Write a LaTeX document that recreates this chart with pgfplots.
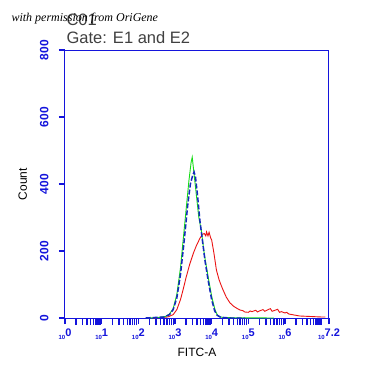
\documentclass[border=0pt]{standalone}
\usepackage{pgfplots}
\pgfplotsset{compat=1.18}
\usepackage{fontspec}
\setmainfont{Liberation Sans}
\newfontfamily\serif{Liberation Serif}
\definecolor{axblue}{RGB}{20,20,220}
\definecolor{ggreen}{RGB}{20,220,20}
\definecolor{rred}{RGB}{235,20,20}
\definecolor{dblue}{RGB}{20,40,190}
\newcommand{\dec}[1]{{\fontsize{6}{6}\selectfont 10}\raisebox{3pt}{\fontsize{11}{11}\selectfont #1}}
\begin{document}
\begin{tikzpicture}[x=1pt,y=1pt]
\path[use as bounding box,fill=white] (0,0) rectangle (384,384);
\begin{axis}[
  at={(65pt,66pt)}, anchor=south west,
  scale only axis, width=264pt, height=268pt,
  xmin=0, xmax=7.2, ymin=0, ymax=800,
  /pgf/number format/assume math mode=true,
  axis line style={axblue, line width=1pt},
  xtick={0,1,2,3,4,5,6,7.2},
  xticklabels={\dec{0},\dec{1},\dec{2},\dec{3},\dec{4},\dec{5},\dec{6},\dec{7.2}},
  minor xtick={0.301,0.477,0.602,0.699,0.778,0.845,0.903,0.954,
    1.301,1.477,1.602,1.699,1.778,1.845,1.903,1.954,
    2.301,2.477,2.602,2.699,2.778,2.845,2.903,2.954,
    3.301,3.477,3.602,3.699,3.778,3.845,3.903,3.954,
    4.301,4.477,4.602,4.699,4.778,4.845,4.903,4.954,
    5.301,5.477,5.602,5.699,5.778,5.845,5.903,5.954,
    6.301,6.477,6.602,6.699,6.778,6.845,6.903,6.954,7},
  xtick pos=bottom, ytick pos=left,
  tick align=outside,
  major tick length=6pt, minor tick length=7pt,
  tick style={axblue, line width=1.2pt},
  minor tick style={axblue, line width=1.4pt},
  ytick={0,200,400,600,800},
  yticklabel shift=7pt,
  yticklabel style={rotate=90, anchor=south, font=\fontsize{12}{12}\selectfont\bfseries, text=axblue},
  xticklabel style={text=axblue, font=\bfseries, yshift=-1pt},
  ylabel={Count}, xlabel={FITC-A},
  ylabel style={font=\fontsize{12}{12}\selectfont, yshift=6pt},
  xlabel style={font=\fontsize{12}{12}\selectfont, yshift=-2pt},
  clip=false,
]
\addplot[rred, line width=0.9pt] coordinates {
(2.4,0) (2.8,3) (2.95,10) (3.05,25) (3.15,55) (3.22,84) (3.3,120) (3.4,160) (3.5,193) (3.58,215) (3.68,238) (3.75,250) (3.8,252) (3.84,245) (3.86,257) (3.9,245) (3.93,256) (3.97,240) (4.0,233) (4.06,195) (4.13,143) (4.2,115) (4.25,100) (4.31,84) (4.4,62) (4.5,45) (4.6,35) (4.7,28) (4.77,24) (4.85,22) (4.9,18) (5.0,17) (5.05,21) (5.1,19) (5.2,23) (5.25,18) (5.3,21) (5.4,25) (5.45,20) (5.5,23) (5.6,28) (5.65,20) (5.7,22) (5.8,26) (5.85,17) (5.9,19) (6.0,15) (6.05,17) (6.1,12) (6.2,10) (6.3,8) (6.4,6) (6.6,5) (6.8,4) (7.0,3) (7.1,3)};
\addplot[ggreen, line width=0.9pt] coordinates {
(2.3,0) (2.6,2) (2.75,5) (2.85,12) (2.95,28) (3.05,70) (3.15,150) (3.22,230) (3.3,320) (3.38,410) (3.44,465) (3.47,480) (3.5,450) (3.55,400) (3.6,350) (3.65,300) (3.72,260) (3.8,190) (3.9,125) (4.0,65) (4.09,25) (4.15,10) (4.22,3) (4.4,1) (5.7,0)};
\addplot[dblue, line width=1.5pt, dash pattern=on 5pt off 2pt] coordinates {
(2.2,0) (2.7,3) (2.85,10) (2.95,25) (3.05,60) (3.15,130) (3.25,230) (3.35,340) (3.42,400) (3.48,425) (3.52,436) (3.56,420) (3.62,360) (3.68,290) (3.75,230) (3.82,170) (3.9,115) (4.0,55) (4.08,22) (4.15,8) (4.25,2) (4.5,0) (4.9,0)};
\end{axis}
\node[anchor=base west, font=\fontsize{16.5}{16.5}\selectfont, text=black!75] at (63,341) {Gate: E1 and E2};
\node[anchor=base west, font=\fontsize{16.5}{16.5}\selectfont, text=black!75] at (63,359) {C01};
\node[anchor=base west, font=\serif\itshape\fontsize{12}{12}\selectfont] at (8,362) {with permission from OriGene};
\end{tikzpicture}
\end{document}
